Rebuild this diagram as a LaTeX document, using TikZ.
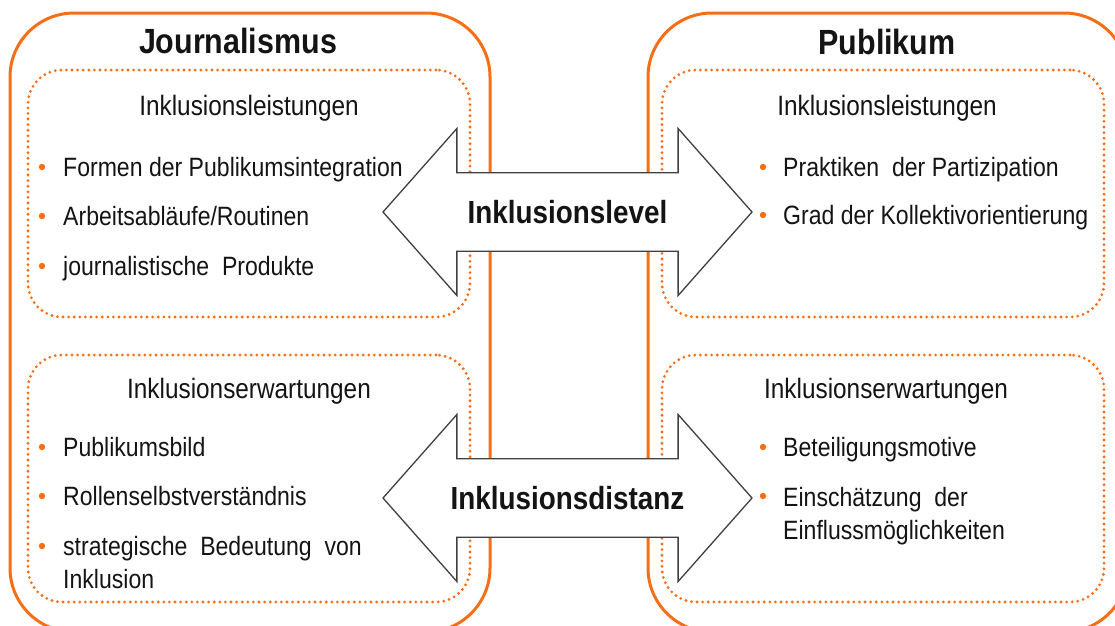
\documentclass[tikz,border=0pt]{standalone}
\usepackage{fontspec}
\setmainfont[FakeStretch=0.87]{Liberation Sans}
\usepackage{xcolor}
\usetikzlibrary{shapes.arrows,positioning}
\definecolor{accent}{RGB}{246,110,22}
\definecolor{arrowline}{RGB}{64,64,64}
\definecolor{ink}{RGB}{20,20,20}
\tikzstyle{sidebox} = [rectangle, draw=accent, line width=3pt, rounded corners=64pt, minimum height=619pt]
\tikzstyle{groupbox} = [rectangle, draw=accent, line width=3.1pt, line cap=round, dash pattern=on 0pt off 5.6pt, rounded corners=34pt, minimum width=442pt, minimum height=247pt]
\tikzstyle{titletext} = [font=\fontsize{35}{42}\selectfont\bfseries, text=ink, anchor=base, inner sep=0pt]
\tikzstyle{headtext} = [font=\fontsize{28}{33}\selectfont, text=ink, anchor=base, inner sep=0pt]
\tikzstyle{itemtext} = [font=\fontsize{26.5}{33}\selectfont, text=ink, anchor=base west, inner sep=0pt, align=left]
\tikzset{linkarrow/.style = {
    double arrow, draw=arrowline, fill=white, line width=1.3pt,
    minimum height=369pt, minimum width=167pt,
    double arrow head extend=41pt, double arrow tip angle=97,
    inner xsep=0pt, inner ysep=24pt, text=ink,
    font=\fontsize{32}{38}\selectfont\bfseries
  }
}
\newcommand{\itemdot}[1]{%
  \fill[accent] (#1) circle (3.2pt);
}

\begin{document}
\begin{tikzpicture}[x=1pt, y=-1pt]
            \useasboundingbox (0,0) rectangle (1115,625);
            \clip (0,0) rectangle (1115,625);

            % frames
            \node[sidebox, minimum width=480pt] (journ) at (250,322.5) {};
            \node[sidebox, minimum width=480pt] (publ) at (888,322.5) {};
            \node[groupbox] (jleist) at (249,193.5) {};
            \node[groupbox] (jerw) at (249,478.5) {};
            \node[groupbox] (pleist) at (883,193.5) {};
            \node[groupbox] (perw) at (883,478.5) {};

            % titles
            \node[titletext] (tjourn) at (238,53) {Journalismus};
            \node[titletext] (tpubl) at (887,54) {Publikum};

            \node[headtext] (hjleist) at (249,115) {Inklusionsleistungen};
            \node[headtext] (hjerw) at (249,398) {Inklusionserwartungen};
            \node[headtext] (hpleist) at (887,115) {Inklusionsleistungen};
            \node[headtext] (hperw) at (886,398) {Inklusionserwartungen};

            % items (multi-line nodes sit on their last line)
            \node[itemtext] (j1) at (63,176) {Formen der Publikumsintegration};
            \node[itemtext] (j2) at (63,225) {Arbeitsabläufe/Routinen};
            \node[itemtext] (j3) at (63,275) {journalistische\ \ Produkte};
            \node[itemtext] (j4) at (63,456) {Publikumsbild};
            \node[itemtext] (j5) at (63,505) {Rollenselbstverständnis};
            \node[itemtext] (j6) at (63,588) {strategische\ \ Bedeutung\ \ von\\Inklusion};

            \node[itemtext] (p1) at (783,176) {Praktiken\ \ der Partizipation};
            \node[itemtext] (p2) at (783,224) {Grad der Kollektivorientierung};
            \node[itemtext] (p3) at (783,456) {Beteiligungsmotive};
            \node[itemtext] (p4) at (783,539) {Einschätzung\ \ der\\Einflussmöglichkeiten};

            \itemdot{42,167}
            \itemdot{42,216}
            \itemdot{42,266}
            \itemdot{42,447}
            \itemdot{42,496}
            \itemdot{42,546}
            \itemdot{763,167}
            \itemdot{763,215}
            \itemdot{763,447}
            \itemdot{763,496}

            % arrows
            \node[linkarrow] (level) at (567.5,212) {Inklusionslevel};
            \node[linkarrow] (distanz) at (567.5,498) {Inklusionsdistanz};

          \end{tikzpicture}
\end{document}
